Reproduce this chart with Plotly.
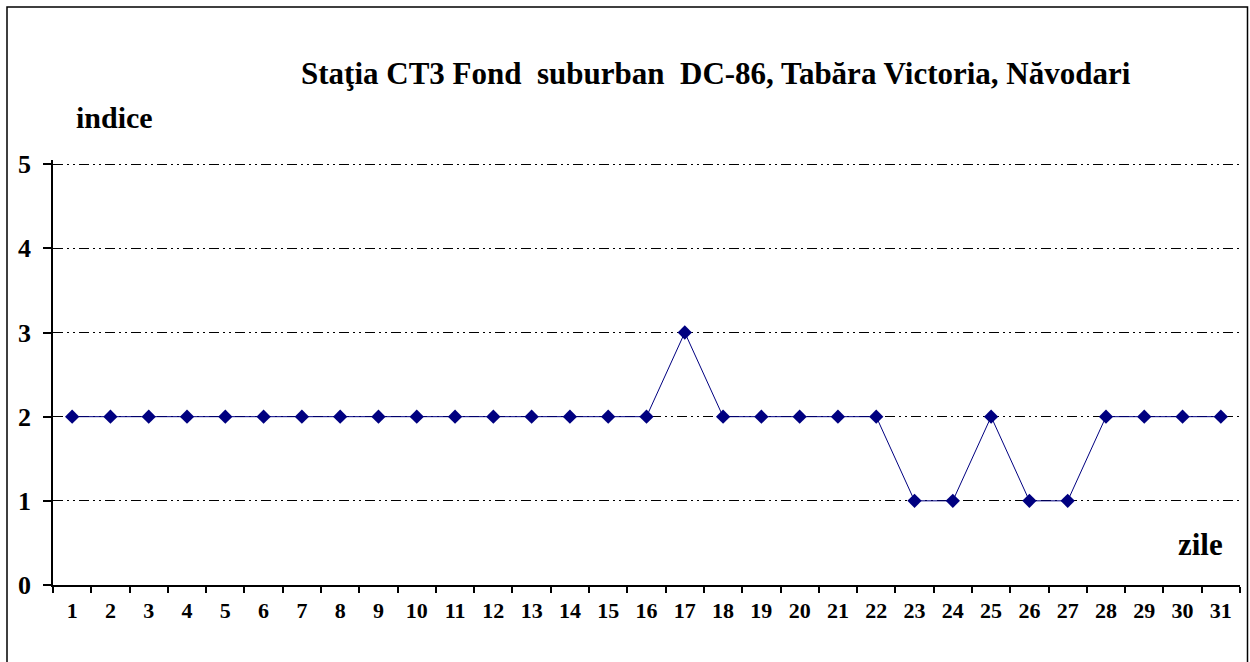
import plotly.graph_objects as go

zile = [str(i) for i in range(1, 32)]
indice = [2, 2, 2, 2, 2, 2, 2, 2, 2, 2, 2, 2, 2, 2, 2, 2, 3, 2, 2, 2, 2, 2, 1, 1, 2, 1, 1, 2, 2, 2, 2]
y_ticks = [0, 1, 2, 3, 4, 5]
title_text = "Staţia CT3 Fond&nbsp; suburban&nbsp; DC-86, Tabăra Victoria, Năvodari"

W, H = 1250, 662
Y_MAX = 5.05
L, R, T, B = 53, 10, 160, 77
pw, ph = W - L - R, H - T - B

def px(x_page):
    return (x_page - L) / pw

def py(y_page):
    return (H - B - y_page) / ph

font = "Liberation Serif, Times New Roman, serif"

fig = go.Figure()
fig.add_trace(go.Scatter(
    x=zile, y=indice, mode="lines+markers",
    line=dict(color="#000080", width=1),
    marker=dict(symbol="diamond", size=11, color="#000080"),
    showlegend=False, cliponaxis=False,
))

fig.update_layout(
    width=W, height=H,
    margin=dict(l=L, r=R, t=T, b=B),
    paper_bgcolor="white", plot_bgcolor="white",
    font=dict(family=font, color="black"),
    xaxis=dict(
        type="category", tickson="boundaries", ticks="outside", ticklen=6,
        tickcolor="black", tickwidth=1.5,
        showline=True, linecolor="black", linewidth=1.5,
        showgrid=False, zeroline=False,
        tickfont=dict(family=font, size=22, color="black", weight="bold"),
        ticklabelstandoff=5,
        range=[-0.5, 30.5],
    ),
    yaxis=dict(
        range=[0, Y_MAX], tickvals=y_ticks, ticks="outside", ticklen=8,
        tickcolor="black", tickwidth=1.5,
        showline=True, linecolor="black", linewidth=1.5,
        showgrid=True, gridcolor="black", gridwidth=1,
        griddash="10px,4px,2px,4px,2px,4px",
        zeroline=False,
        tickfont=dict(family=font, size=26, color="black", weight="bold"),
        ticklabelstandoff=7,
    ),
    shapes=[dict(
        type="rect", xref="paper", yref="paper",
        x0=px(7), x1=px(1247.5), y0=py(680), y1=py(7),
        line=dict(color="black", width=1.5), fillcolor="rgba(0,0,0,0)",
    )],
    annotations=[
        dict(text=f"<b>{title_text}</b>", xref="paper", yref="paper",
             x=px(716), y=py(73), showarrow=False,
             font=dict(family=font, size=31, color="black"),
             xanchor="center", yanchor="middle"),
        dict(text="<b>indice</b>", xref="paper", yref="paper",
             x=px(114), y=py(118), showarrow=False,
             font=dict(family=font, size=30, color="black"),
             xanchor="center", yanchor="middle"),
        dict(text="<b>zile</b>", xref="paper", yref="paper",
             x=px(1200), y=py(544), showarrow=False,
             font=dict(family=font, size=31, color="black"),
             xanchor="center", yanchor="middle"),
    ],
)

fig.write_html(
    "out.html",
    config={"displayModeBar": False},
    post_script="document.body.style.margin='0';",
)
